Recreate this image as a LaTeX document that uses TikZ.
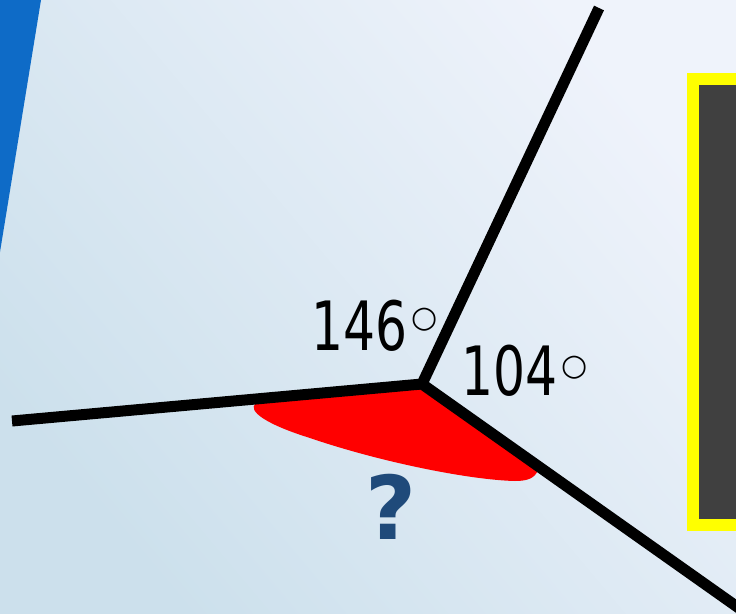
\documentclass[tikz,border=0pt]{standalone}
\usepackage{fontspec}
\newfontfamily\labelfont[FakeStretch=0.74]{DejaVu Sans}
\newfontfamily\qfont{DejaVu Sans}
\definecolor{bgdark}{HTML}{CCE0EC}
\definecolor{bglight}{HTML}{EFF3FB}
\definecolor{sideblue}{HTML}{0E6BC7}
\definecolor{qblue}{HTML}{1F4A7A}
\definecolor{panelgray}{HTML}{404040}
\definecolor{panelyellow}{HTML}{FFFF00}
\tikzset{
  ray/.style={line width=11pt, line join=miter, line cap=butt, black},
  anglelabel/.style={font=\labelfont\fontsize{68}{68}\selectfont, inner sep=0pt, anchor=base west},
  degsign/.style={font=\qfont\fontsize{30}{30}\selectfont, inner sep=0pt},
}
\begin{document}
\begin{tikzpicture}[x=1pt, y=-1pt]
\useasboundingbox (0,0) rectangle (736,613);
\clip (0,0) rectangle (736,613);
% background
\shade[bottom color=bgdark, top color=bglight, shading angle=-50] (0,0) rectangle (736,613);
% blue wedge
\fill[sideblue] (0,0) -- (41,0) -- (0,252) -- cycle;
% panel
\fill[panelyellow] (687,73) rectangle (750,531);
\fill[panelgray] (699,85) rectangle (750,519);
% points
\coordinate (O) at (422,384);
\coordinate (L) at (12,421);
\coordinate (T) at (599,8);
\coordinate (R) at (760,623);
% red angle
\fill[red] (420,389) -- (256,403) .. controls (246,411) and (268,425) .. (310,438)
  .. controls (380,462) and (470,480) .. (515,481)
  .. controls (528,481) and (535,478) .. (538,470) -- cycle;
% rays
\draw[ray] (L) -- (O) -- (T);
\draw[ray] (O) -- (R);
% labels
\node[anglelabel] (a146) at (311,350) {146};
\node[degsign] (d146) at (425,320) {○};
\node[anglelabel] (a104) at (461,395) {104};
\node[degsign] (d104) at (575,368) {○};
\node[font=\qfont\bfseries\fontsize{88}{88}\selectfont, text=qblue, inner sep=0pt] (q) at (391,507) {?};
\end{tikzpicture}
\end{document}
